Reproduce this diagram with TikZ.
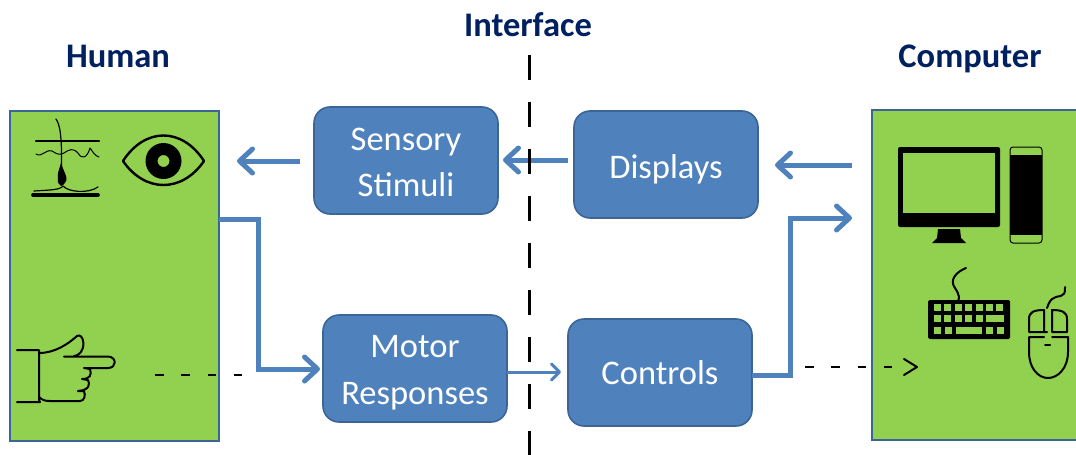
\documentclass[tikz,border=0pt]{standalone}
\usepackage{fontspec}
\setmainfont{Carlito}
\usetikzlibrary{arrows.meta,positioning}
\definecolor{boxblue}{HTML}{4F81BD}
\definecolor{boxedge}{HTML}{3A6595}
\definecolor{sidegreen}{HTML}{92D050}
\definecolor{titlenavy}{HTML}{002060}
\newcommand{\dropline}[2]{\raisebox{-#1}[\height][\depth]{#2}}

\begin{document}
\begin{tikzpicture}[x=1pt, y=-1pt,
        every node/.append style={inner sep=0pt, outer sep=0pt},
        flow/.style={draw=boxblue, line width=5pt, -{Straight Barb[round,length=13pt,width=24pt,line width=5pt]}},
        thinflow/.style={draw=boxblue, line width=3pt, -{Straight Barb[round,length=8pt,width=16pt,line width=3pt]}},
        hint/.style={draw=black, line width=2pt, dash pattern=on 8.5pt off 17.8pt},
        icon/.style={draw=black, line width=2pt, line cap=round, line join=round}]
      \tikzstyle{title} = [font=\bfseries\fontsize{34.5}{34.5}\selectfont,text=titlenavy,anchor=base]
      \tikzstyle{side} = [draw=boxedge,line width=2pt,fill=sidegreen,minimum height=330pt,anchor=north west]
      \tikzstyle{stage} = [draw=boxedge,line width=1.6pt,fill=boxblue,rounded corners=16pt,minimum width=184pt,minimum height=107pt,
        font=\fontsize{34.5}{46}\selectfont,text=white,align=center,anchor=north west]
      \useasboundingbox (0,0) rectangle (1076,455);

      \node (HUMAN) [side,minimum width=209pt] at (10,111) {};
      \node (COMPUTER) [side,minimum width=220pt] at (872,110) {};
      \clip (0,0) rectangle (1076,455);

      \node (humanlabel) [title] at (118,67) {Human};
      \node (computerlabel) [title] at (970,67) {Computer};
      \node (interfacelabel) [title] at (528,36) {Interface};

      \node (sensory) [stage] at (314,107) {\dropline{2pt}{Sensory}\\\dropline{2pt}{Stimuli}};
      \node (displays) [stage] at (574,111) {\dropline{5pt}{Displays}};
      \node (motor) [stage] at (323,315) {\dropline{4pt}{Motor}\\\dropline{5pt}{Responses}};
      \node (controls) [stage] at (568,319) {Controls};

      % arrows of the upper row
      \coordinate (computerOut) at (852,165);
      \coordinate (displaysIn) at (775,165);
      \coordinate (stimuliOut) at (300,161);
      \coordinate (humanIn) at (237,161);
      \coordinate (displaysOut) at (568,160);
      \coordinate (sensoryIn) at (503,160);
      \draw[flow] (computerOut) -- (displaysIn);
      \draw[flow] (displaysOut) -- (sensoryIn);
      \draw[flow] (stimuliOut) -- (humanIn);

      % arrows of the lower row
      \coordinate (computerIn) at (852,218);
      \draw[flow] (HUMAN.east |- 0,219) -- (258,219) -- (258,369) -- (320,369);
      \draw[thinflow] (motor.east |- 0,372) -- (561,372);
      \draw[flow] (controls.east |- 0,375) -- (790,375) -- (790,218) -- (computerIn);

      % interface line goes over the arrows
      \coordinate (splitTop) at (529,55);
      \coordinate (splitBottom) at (529,455);
      \draw[draw=black,line width=3pt,dash pattern=on 25pt off 22pt] (splitTop) -- (splitBottom);

      % dashed hints
      \coordinate (handTip) at (155,375);
      \coordinate (handEnd) at (243,375);
      \coordinate (pressStart) at (805,367);
      \coordinate (pressEnd) at (917,367);
      \draw[hint] (handTip) -- (handEnd);
      \draw[hint] (pressStart) -- (892.5,367);
      \draw[icon] (904,359) -- (917,367) -- (904,375);

      % skin
      \draw[icon,line width=2.2pt] (36,141) -- (99,141);
      \draw[icon,line width=3.6pt] (33,195) -- (98,195);
      \draw[icon,line width=1pt] (36,154) .. controls (42,158) and (45,149) .. (52,151) .. controls (56,153) and (58,156) .. (64,153) .. controls (70,149) and (73,148) .. (78,153) .. controls (82,160) and (87,158) .. (90,148) .. controls (93,152) and (95,156) .. (99,157);
      \draw[icon,line width=1.2pt] (56,119) .. controls (60,125) and (62,135) .. (61.5,170);
      \draw[icon,line width=1.2pt] (34,191) .. controls (50,190) and (60,190) .. (63,186) .. controls (68,192) and (88,194) .. (98,187);
      \fill[black] (61,163) .. controls (64,172) and (67,176) .. (66.5,180) .. controls (65,184) and (62,186) .. (61,186) .. controls (59,185) and (57,182) .. (58,178) .. controls (57,174) and (59,170) .. (61,163) -- cycle;

      % eye
      \draw[icon,line width=2.4pt] (123,161) .. controls (145,127) and (182,127) .. (204,161) .. controls (182,193) and (145,193) .. (123,161) -- cycle;
      \fill[black,even odd rule] (163.5,161) circle (18pt) (163.5,161) circle (6pt);

      % hand
      \draw[icon] (17,350) -- (39,350) -- (39,400) -- (40,402) -- (17,402);
      \draw[icon] (39,353) .. controls (55,353) and (68,344) .. (77,336) .. controls (83,333) and (85,345) .. (82,350) .. controls (81,353) and (77,356) .. (74,356);
      \draw[icon] (64,356.5) -- (108,356.5) .. controls (117,357) and (117,368) .. (108,368) -- (84,368) -- (90,369) .. controls (92,375) and (90,379) .. (82,379) -- (88,380) .. controls (90,384) and (90,390) .. (78,391) -- (84,391) .. controls (86,396) and (84,401) .. (80,401) -- (50,401) .. controls (45,401) and (42,400) .. (39,397);

      % monitor
      \fill[black,rounded corners=2pt] (898,147) rectangle (1000,227);
      \fill[sidegreen] (903,153) rectangle (995,213);
      \fill[black] (938,229) -- (960,229) -- (961,238) -- (966,243) -- (932,243) -- (937,238) -- cycle;

      % tower
      \draw[draw=black,fill=sidegreen,line width=1pt,rounded corners=3pt] (1010,147) rectangle (1042,243);
      \fill[black] (1010,154.5) rectangle (1042,235);

      % keyboard
      \draw[icon] (966,268) .. controls (956,272) and (949,280) .. (955,288) .. controls (960,296) and (960,299) .. (957,302);
      \fill[black,rounded corners=1.5pt] (928,300) rectangle (1010,339);
      \foreach \col in {0,...,6} {
        \fill[sidegreen] (934+10.4*\col,304) rectangle +(7,7);
      }
      \foreach \col in {0,...,4} {
        \fill[sidegreen] (934+10.4*\col,315) rectangle +(7,7);
      }
      \fill[sidegreen] (986,315) rectangle (1004,322);
      \fill[sidegreen] (934,327) rectangle +(7,7);
      \fill[sidegreen] (945,327) rectangle +(7,7);
      \fill[sidegreen] (956,327) rectangle (982,334);
      \fill[sidegreen] (986,327) rectangle +(7,7);
      \fill[sidegreen] (997,327) rectangle +(7,7);

      % mouse
      \draw[icon] (1065,287) .. controls (1066,300) and (1057,294) .. (1052,299) .. controls (1049,302) and (1048,305) .. (1047,308);
      \draw[icon] (1047,332) -- (1029,332) -- (1029,319) .. controls (1029,312) and (1034,310) .. (1044,310) -- (1044,332);
      \draw[icon] (1052,332) -- (1052,310) .. controls (1062,310) and (1067,312) .. (1067,319) -- (1067,332) -- (1052,332);
      \draw[icon] (1044,337) -- (1029,337) -- (1029,352) .. controls (1029,368) and (1038,378) .. (1048,378) .. controls (1058,378) and (1068,368) .. (1068,352) -- (1068,337) -- (1052,337);
      \draw[icon] (1045,345) -- (1050,345);
\end{tikzpicture}
\end{document}
